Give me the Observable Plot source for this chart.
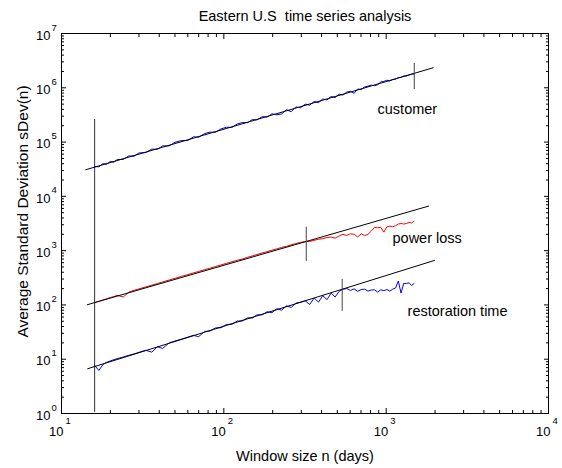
<!DOCTYPE html>
<html><head><meta charset="utf-8">
<script src="https://cdn.jsdelivr.net/npm/d3@7"></script>
<script src="https://cdn.jsdelivr.net/npm/@observablehq/plot@0.6"></script>
<style>body{margin:0;background:#fff;}</style>
</head><body><div id="chart"></div>
<script>
// ---- data ----
const windowDays = [16,17,18,19,20,21,22,24,26,28,30,33,36,39,42,46,50,55,60,65,70,76,82,89,96,104,112,121,130,140,150,160,172,185,198,212,227,243,260,278,297,317,338,360,383,407,432,458,485,513,542,572,603,635,668,702,737,773,810,848,887,927,968,1010,1053,1097,1142,1188,1235,1283,1332,1382,1433,1485];
const customerSDev = [35500,35000,40000,39000,44000,42500,47500,48000,55500,55000,63000,64000,74000,73500,85000,85000,99000,107000,107000,125000,123000,143000,152000,152000,175000,188000,186000,216000,229000,228000,260000,256000,293000,290000,332000,318000,330000,396000,362000,445000,428000,500000,478000,560000,532000,622000,598000,690000,662000,760000,735000,835000,860000,790000,950000,925000,1040000,1070000,1120000,1090000,1140000,1280000,1310000,1380000,1330000,1420000,1440000,1540000,1550000,1650000,1640000,1720000,1770000,1800000];
const powerLossSDev = [110,117,123,130,137,142,150,140,172,186,197,215,231,248,265,287,309,336,362,389,414,446,475,510,545,584,622,665,700,755,800,850,905,960,1020,1080,1145,1200,1280,1350,1420,1470,1480,1550,1620,1660,1740,1780,1700,1860,2000,1900,2040,2000,1780,2040,1900,2000,2290,2690,2630,2690,2190,2750,2820,2750,2880,3090,3160,3090,3160,3310,3240,3470];
const restorationSDev = [7.7,6.2,8.0,8.8,9.3,9.8,10.2,11.0,11.8,12.5,13.4,14.6,13.5,17.0,15.8,20.0,21.6,23.5,25.5,27.5,26.0,32.5,33.0,37.8,38.0,43.8,44.0,50.5,50.5,57.8,57.5,65.5,65.5,75.0,72.0,85.0,80.0,96.0,90.0,108,112,119,102,134,113,148,125,165,140,178,195,200,185,198,178,192,195,180,188,190,172,190,183,192,180,195,205,275,165,250,248,255,228,248];

// fitted power-law lines (end points)
const fitNames = ["customer","customer","power loss","power loss","restoration time","restoration time"];
const fitDays = [14.1, 1950, 14.4, 1824, 14.5, 1986];
const fitValues = [30900, 2340000, 100.7, 6610, 6.68, 661];

// vertical markers
const markerDays = [1490, 322, 536];
const markerLow = [930000, 632, 76];
const markerHigh = [2800000, 2710, 295];
const cutoffDay = [16];
const cutoffLow = [1.05];
const cutoffHigh = [260000];

// series labels
const labelText = ["customer", "power loss", "restoration time"];
const labelDays = [885, 1094, 1355];
const labelValues = [400000, 1680, 76];

// tick labels
const xTicks = [10, 100, 1000, 10000];
const xTickExp = ["1", "2", "3", "4"];
const yTicks = [1, 10, 100, 1000, 10000, 100000, 1000000, 10000000];
const yTickExp = ["0", "1", "2", "3", "4", "5", "6", "7"];

const titleText = "Eastern U.S  time series analysis";
const xLabel = "Window size n (days)";
const yLabel = "Average Standard Deviation sDev(n)";

// ---- build tables ----
const rows = windowDays.map((n, i) => ({n, customer: customerSDev[i], power: powerLossSDev[i], restoration: restorationSDev[i]}));
const fits = fitDays.map((d, i) => ({name: fitNames[i], n: d, v: fitValues[i]}));
const markers = markerDays.map((d, i) => ({n: d, lo: markerLow[i], hi: markerHigh[i]}));
const cutoff = cutoffDay.map((d, i) => ({n: d, lo: cutoffLow[i], hi: cutoffHigh[i]}));
const labels = labelText.map((t, i) => ({t, n: labelDays[i], v: labelValues[i]}));
const xT = xTicks.map((v, i) => ({v, e: xTickExp[i]}));
const yT = yTicks.map((v, i) => ({v, e: yTickExp[i]}));
const minorOf = (decades) => decades.flatMap(d => [2,3,4,5,6,7,8,9].map(k => k * d));
const xMinor = minorOf(xTicks.slice(0, -1));
const yMinor = minorOf(yTicks.slice(0, -1));

const font = "'Liberation Sans', Arial, Helvetica, sans-serif";
const tickAxes = [];
for (const anchor of ["bottom", "top"]) {
  tickAxes.push(Plot.axisX(xTicks, {anchor, tickSize: -5, tickFormat: () => "", label: null}));
  tickAxes.push(Plot.axisX(xMinor, {anchor, tickSize: -3, tickFormat: () => "", label: null}));
}
for (const anchor of ["left", "right"]) {
  tickAxes.push(Plot.axisY(yTicks, {anchor, tickSize: -5, tickFormat: () => "", label: null}));
  tickAxes.push(Plot.axisY(yMinor, {anchor, tickSize: -3, tickFormat: () => "", label: null}));
}

const chart = Plot.plot({
  width: 562,
  height: 468,
  marginLeft: 61,
  marginRight: 14,
  marginTop: 33,
  marginBottom: 55,
  style: {fontFamily: font, fontSize: "13px", background: "#fff", color: "#000"},
  x: {type: "log", domain: [10, 10000]},
  y: {type: "log", domain: [1, 10000000]},
  marks: [
    ...tickAxes,
    Plot.ruleX(cutoff, {x: "n", y1: "lo", y2: "hi", stroke: "#333", strokeWidth: 1}),
    Plot.line(rows, {x: "n", y: "customer", stroke: "#0000ff", strokeWidth: 1}),
    Plot.line(rows, {x: "n", y: "power", stroke: "#ff0000", strokeWidth: 1}),
    Plot.line(rows, {x: "n", y: "restoration", stroke: "#0000ff", strokeWidth: 1}),
    Plot.line(fits, {x: "n", y: "v", z: "name", stroke: "#000", strokeWidth: 1}),
    Plot.ruleX(markers, {x: "n", y1: "lo", y2: "hi", stroke: "#444", strokeWidth: 1}),
    Plot.text(labels, {x: "n", y: "v", text: "t", textAnchor: "start", lineAnchor: "middle", fontSize: 14.5, fill: "#000"}),
    Plot.frame({stroke: "#000", strokeWidth: 1}),
    // x tick labels 10^k
    Plot.text(xT, {x: "v", frameAnchor: "bottom", text: () => "10", textAnchor: "end", lineAnchor: "middle", dx: 2, dy: 18, fontSize: 13}),
    Plot.text(xT, {x: "v", frameAnchor: "bottom", text: "e", textAnchor: "start", lineAnchor: "middle", dx: 4, dy: 7, fontSize: 9.5}),
    // y tick labels 10^k
    Plot.text(yT, {y: "v", frameAnchor: "left", text: () => "10", textAnchor: "end", lineAnchor: "middle", dx: -11, dy: 2, fontSize: 13}),
    Plot.text(yT, {y: "v", frameAnchor: "left", text: "e", textAnchor: "start", lineAnchor: "middle", dx: -10, dy: -6, fontSize: 9.5}),
    // titles
    Plot.text([titleText], {frameAnchor: "top", textAnchor: "middle", lineAnchor: "middle", dy: -17, fontSize: 14.5}),
    Plot.text([xLabel], {frameAnchor: "bottom", textAnchor: "middle", lineAnchor: "middle", dy: 43, fontSize: 14.5}),
    Plot.text([yLabel], {frameAnchor: "left", textAnchor: "middle", lineAnchor: "middle", dx: -38, dy: -12, rotate: -90, fontSize: 15.5})
  ]
});
document.getElementById("chart").appendChild(chart);
</script>
</body></html>
